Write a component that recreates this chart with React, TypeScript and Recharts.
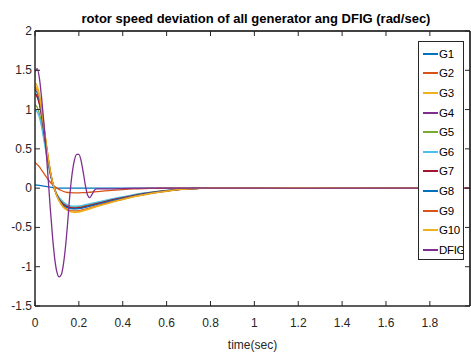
import { LineChart, Line, XAxis, YAxis, Legend, ReferenceArea } from 'recharts'

// time base for the ten generators (sec)
const gTime = [
  0, 0.01, 0.02, 0.03, 0.04, 0.05, 0.06, 0.07, 0.08, 0.09, 0.1, 0.12, 0.14, 0.16, 0.18, 0.2, 0.22,
  0.25, 0.3, 0.35, 0.4, 0.45, 0.5, 0.55, 0.6, 0.65, 0.7, 0.8, 1.0, 1.2, 1.4, 1.6, 1.8, 1.98,
]

const g1 = [0.04, 0.038, 0.035, 0.031, 0.027, 0.022, 0.017, 0.012, 0.008, 0.004, 0.001, 0, 0, 0, 0, 0, 0, 0, 0, 0, 0, 0, 0, 0, 0, 0, 0, 0, 0, 0.002, 0.001, 0, 0, 0]
const g2 = [0.33, 0.3, 0.27, 0.23, 0.19, 0.15, 0.11, 0.075, 0.045, 0.02, 0.0, -0.03, -0.05, -0.058, -0.06, -0.06, -0.058, -0.052, -0.04, -0.028, -0.018, -0.01, -0.005, -0.002, 0, 0, 0, 0, 0, 0.003, 0.002, 0, 0, 0]
const g3 = [1.34, 1.3, 1.2, 1.03, 0.82, 0.6, 0.4, 0.22, 0.08, -0.02, -0.1, -0.21, -0.27, -0.3, -0.31, -0.305, -0.29, -0.265, -0.22, -0.18, -0.145, -0.11, -0.085, -0.06, -0.04, -0.02, -0.01, 0, 0, 0.005, 0.003, 0, 0, 0]
const g4 = [1.2, 1.17, 1.08, 0.93, 0.74, 0.54, 0.36, 0.2, 0.07, -0.02, -0.09, -0.18, -0.23, -0.255, -0.26, -0.255, -0.245, -0.225, -0.19, -0.155, -0.125, -0.095, -0.07, -0.05, -0.033, -0.018, -0.008, 0, 0, 0.004, 0.002, 0, 0, 0]
const g5 = [1.06, 1.03, 0.95, 0.82, 0.66, 0.48, 0.32, 0.18, 0.06, -0.02, -0.08, -0.16, -0.21, -0.235, -0.24, -0.236, -0.226, -0.207, -0.175, -0.143, -0.115, -0.088, -0.065, -0.046, -0.03, -0.017, -0.007, 0, 0, 0.004, 0.002, 0, 0, 0]
const g6 = [1.0, 0.97, 0.9, 0.78, 0.62, 0.46, 0.3, 0.17, 0.06, -0.02, -0.08, -0.15, -0.2, -0.225, -0.23, -0.226, -0.216, -0.198, -0.168, -0.137, -0.11, -0.084, -0.062, -0.044, -0.029, -0.016, -0.007, 0, 0, 0.004, 0.002, 0, 0, 0]
const g7 = [1.2, 1.16, 1.07, 0.92, 0.73, 0.53, 0.35, 0.19, 0.07, -0.02, -0.09, -0.18, -0.225, -0.248, -0.253, -0.249, -0.238, -0.218, -0.185, -0.151, -0.121, -0.092, -0.068, -0.048, -0.032, -0.018, -0.008, 0, 0, 0.004, 0.002, 0, 0, 0]
const g8 = [1.25, 1.21, 1.12, 0.96, 0.77, 0.56, 0.37, 0.2, 0.07, -0.02, -0.09, -0.19, -0.24, -0.26, -0.265, -0.26, -0.25, -0.23, -0.195, -0.16, -0.128, -0.097, -0.072, -0.051, -0.034, -0.019, -0.008, 0, 0, 0.004, 0.002, 0, 0, 0]
const g9 = [1.28, 1.24, 1.15, 0.99, 0.79, 0.58, 0.39, 0.21, 0.08, -0.02, -0.1, -0.2, -0.26, -0.285, -0.29, -0.286, -0.273, -0.25, -0.21, -0.172, -0.138, -0.105, -0.079, -0.056, -0.037, -0.02, -0.009, 0, 0, 0.005, 0.003, 0, 0, 0]
const g10 = [1.3, 1.26, 1.17, 1.0, 0.8, 0.59, 0.39, 0.22, 0.08, -0.02, -0.1, -0.21, -0.27, -0.295, -0.3, -0.296, -0.283, -0.258, -0.216, -0.177, -0.142, -0.108, -0.082, -0.058, -0.038, -0.02, -0.009, 0, 0, 0.005, 0.003, 0, 0, 0]

// DFIG has its own, denser time base
const dfigTime = [
  0, 0.01, 0.02, 0.03, 0.04, 0.05, 0.06, 0.07, 0.08, 0.09, 0.1, 0.11, 0.12, 0.13, 0.14, 0.15, 0.16,
  0.17, 0.18, 0.19, 0.2, 0.21, 0.22, 0.23, 0.24, 0.25, 0.26, 0.27, 0.28, 0.29, 0.3, 0.35, 0.4, 0.5,
  0.7, 1.0, 1.5, 1.98,
]
const dfig = [
  1.48, 1.52, 1.4, 1.15, 0.85, 0.5, 0.12, -0.27, -0.62, -0.9, -1.07, -1.13, -1.1, -0.96, -0.72, -0.4,
  -0.05, 0.2, 0.36, 0.43, 0.43, 0.35, 0.2, 0.03, -0.09, -0.12, -0.08, -0.03, -0.01, -0.01, -0.01,
  -0.01, -0.005, 0, 0, 0, 0, 0,
]

const genNames = ['G1', 'G2', 'G3', 'G4', 'G5', 'G6', 'G7', 'G8', 'G9', 'G10']
const genValues = [g1, g2, g3, g4, g5, g6, g7, g8, g9, g10]
const genColors = ['#0072BD', '#D95319', '#EDB120', '#7E2F8E', '#77AC30', '#4DBEEE', '#A2142F', '#0072BD', '#D95319', '#EDB120']
const dfigColor = '#7E2F8E'

const legendNames = [...genNames, 'DFIG']
const legendColors = [...genColors, dfigColor]

const xTicks = [0, 0.2, 0.4, 0.6, 0.8, 1, 1.2, 1.4, 1.6, 1.8]
const yTicks = [-1.5, -1, -0.5, 0, 0.5, 1, 1.5, 2]
const X_MAX = 1.983

// one table on the union of both time bases, gaps bridged with connectNulls
const allTimes = Array.from(new Set([...gTime, ...dfigTime])).sort((a, b) => a - b)
const tableData = allTimes.map((t) => {
  const row: Record<string, number | undefined> = { t }
  const gi = gTime.indexOf(t)
  genNames.forEach((n, k) => {
    row[n] = gi >= 0 ? genValues[k][gi] : undefined
  })
  const di = dfigTime.indexOf(t)
  row.DFIG = di >= 0 ? dfig[di] : undefined
  return row
})

const FONT = "'Liberation Sans Narrow', 'Arial Narrow', 'Liberation Sans', sans-serif"
const AX = '#262626'
const MARGIN = { top: 30, right: 0, bottom: 0, left: 0 }

// matlab style ticks: pointing into the plot
const BottomTick = (p: any) => (
  <g>
    <line x1={p.x} x2={p.x} y1={p.y} y2={p.y - 5} stroke={AX} />
    <text x={p.x} y={p.y + 21} textAnchor="middle" fontSize={12} fontFamily={FONT} fill={AX}>
      {p.payload.value}
    </text>
  </g>
)
const TopTick = (p: any) => <line x1={p.x} x2={p.x} y1={p.y} y2={p.y + 5} stroke={AX} />
const LeftTick = (p: any) => (
  <g>
    <line x1={p.x} x2={p.x + 5} y1={p.y} y2={p.y} stroke={AX} />
    <text x={p.x - 3} y={p.y + 4} textAnchor="end" fontSize={12} fontFamily={FONT} fill={AX}>
      {p.payload.value}
    </text>
  </g>
)
const RightTick = (p: any) => <line x1={p.x} x2={p.x - 5} y1={p.y} y2={p.y} stroke={AX} />

const LegendBox = () => (
  <div
    style={{
      width: 46,
      height: 219,
      border: `1px solid ${AX}`,
      background: '#fff',
      fontFamily: FONT,
      fontSize: 11.5,
      color: '#000',
      paddingTop: 2,
      boxSizing: 'border-box',
      overflow: 'hidden',
    }}
  >
    {legendNames.map((n, k) => (
      <div key={n} style={{ display: 'flex', alignItems: 'center', height: 19.6, whiteSpace: 'nowrap' }}>
        <span
          style={{
            display: 'inline-block',
            flexShrink: 0,
            width: 15,
            height: 2,
            background: legendColors[k],
            marginLeft: 4,
            marginRight: 1,
          }}
        />
        <span style={{ flexShrink: 0, letterSpacing: -0.3 }}>{n}</span>
      </div>
    ))}
  </div>
)

// frame only: top / right edges with inward ticks, laid over the main chart
function Frame() {
  return (
    <LineChart width={471} height={354} data={tableData} margin={MARGIN}>
      <XAxis dataKey="t" type="number" domain={[0, X_MAX]} allowDataOverflow height={48} axisLine={false} tickLine={false} tick={false} />
      <XAxis
        xAxisId={1}
        orientation="top"
        dataKey="t"
        type="number"
        domain={[0, X_MAX]}
        ticks={xTicks}
        allowDataOverflow
        height={1}
        stroke={AX}
        tickLine={false}
        tickSize={0}
        tickMargin={0}
        tick={TopTick}
        interval={0}
      />
      <YAxis type="number" domain={[-1.5, 2]} allowDataOverflow width={35} axisLine={false} tickLine={false} tick={false} />
      <YAxis
        yAxisId={1}
        orientation="right"
        type="number"
        domain={[-1.5, 2]}
        ticks={yTicks}
        allowDataOverflow
        width={1}
        stroke={AX}
        tickLine={false}
        tickSize={0}
        tickMargin={0}
        tick={RightTick}
        interval={0}
      />
      <ReferenceArea x1={0} x2={X_MAX} y1={-1.5} y2={2} fill="none" stroke={AX} ifOverflow="visible" />
      <Line dataKey="G1" stroke="none" dot={false} connectNulls legendType="none" isAnimationActive={false} />
      <Line xAxisId={1} yAxisId={1} dataKey="G1" stroke="none" dot={false} connectNulls legendType="none" isAnimationActive={false} />
    </LineChart>
  )
}

export default function App() {
  return (
    <div style={{ position: 'absolute', left: 0, top: 0, width: 471, height: 354, background: '#fff' }}>
      <div
        style={{
          position: 'absolute',
          left: 0,
          width: 512,
          top: 11,
          textAlign: 'center',
          fontFamily: FONT,
          fontWeight: 'bold',
          fontSize: 13,
          lineHeight: '16px',
          color: '#000',
        }}
      >
        rotor speed deviation of all generator ang DFIG (rad/sec)
      </div>
      <div style={{ position: 'absolute', left: 0, top: 0 }}>
        <LineChart width={471} height={354} data={tableData} margin={MARGIN}>
          <XAxis
            dataKey="t"
            type="number"
            domain={[0, X_MAX]}
            ticks={xTicks}
            allowDataOverflow
            height={48}
            stroke={AX}
            tickLine={false}
            tickSize={0}
            tickMargin={0}
            tick={BottomTick}
            interval={0}
            label={{ value: 'time(sec)', position: 'insideBottom', offset: 5, fontSize: 12, fontFamily: FONT, fill: AX }}
          />
          <XAxis xAxisId={1} orientation="top" dataKey="t" type="number" domain={[0, X_MAX]} allowDataOverflow height={1} stroke={AX} tick={false} tickLine={false} />
          <YAxis
            type="number"
            domain={[-1.5, 2]}
            ticks={yTicks}
            allowDataOverflow
            width={35}
            stroke={AX}
            tickLine={false}
            tickSize={0}
            tickMargin={0}
            tick={LeftTick}
            interval={0}
          />
          <YAxis yAxisId={1} orientation="right" type="number" domain={[-1.5, 2]} allowDataOverflow width={1} stroke={AX} tick={false} tickLine={false} />
          <Legend
            layout="vertical"
            align="center"
            verticalAlign="middle"
            content={<LegendBox />}
            wrapperStyle={{ left: 418, top: 41, width: 46, height: 219 }}
          />
          <Line xAxisId={1} yAxisId={1} dataKey="G1" stroke="none" dot={false} connectNulls legendType="none" isAnimationActive={false} />
          {genNames.map((n, k) => (
            <Line
              key={n}
              dataKey={n}
              name={n}
              type="monotone"
              stroke={genColors[k]}
              strokeWidth={1.3}
              dot={false}
              connectNulls
              isAnimationActive={false}
            />
          ))}
          <Line
            dataKey="DFIG"
            name="DFIG"
            type="monotone"
            stroke={dfigColor}
            strokeWidth={1.3}
            dot={false}
            connectNulls
            isAnimationActive={false}
          />
        </LineChart>
      </div>
      <div style={{ position: 'absolute', left: 0, top: 0, pointerEvents: 'none' }}>
        <Frame />
      </div>
    </div>
  )
}
